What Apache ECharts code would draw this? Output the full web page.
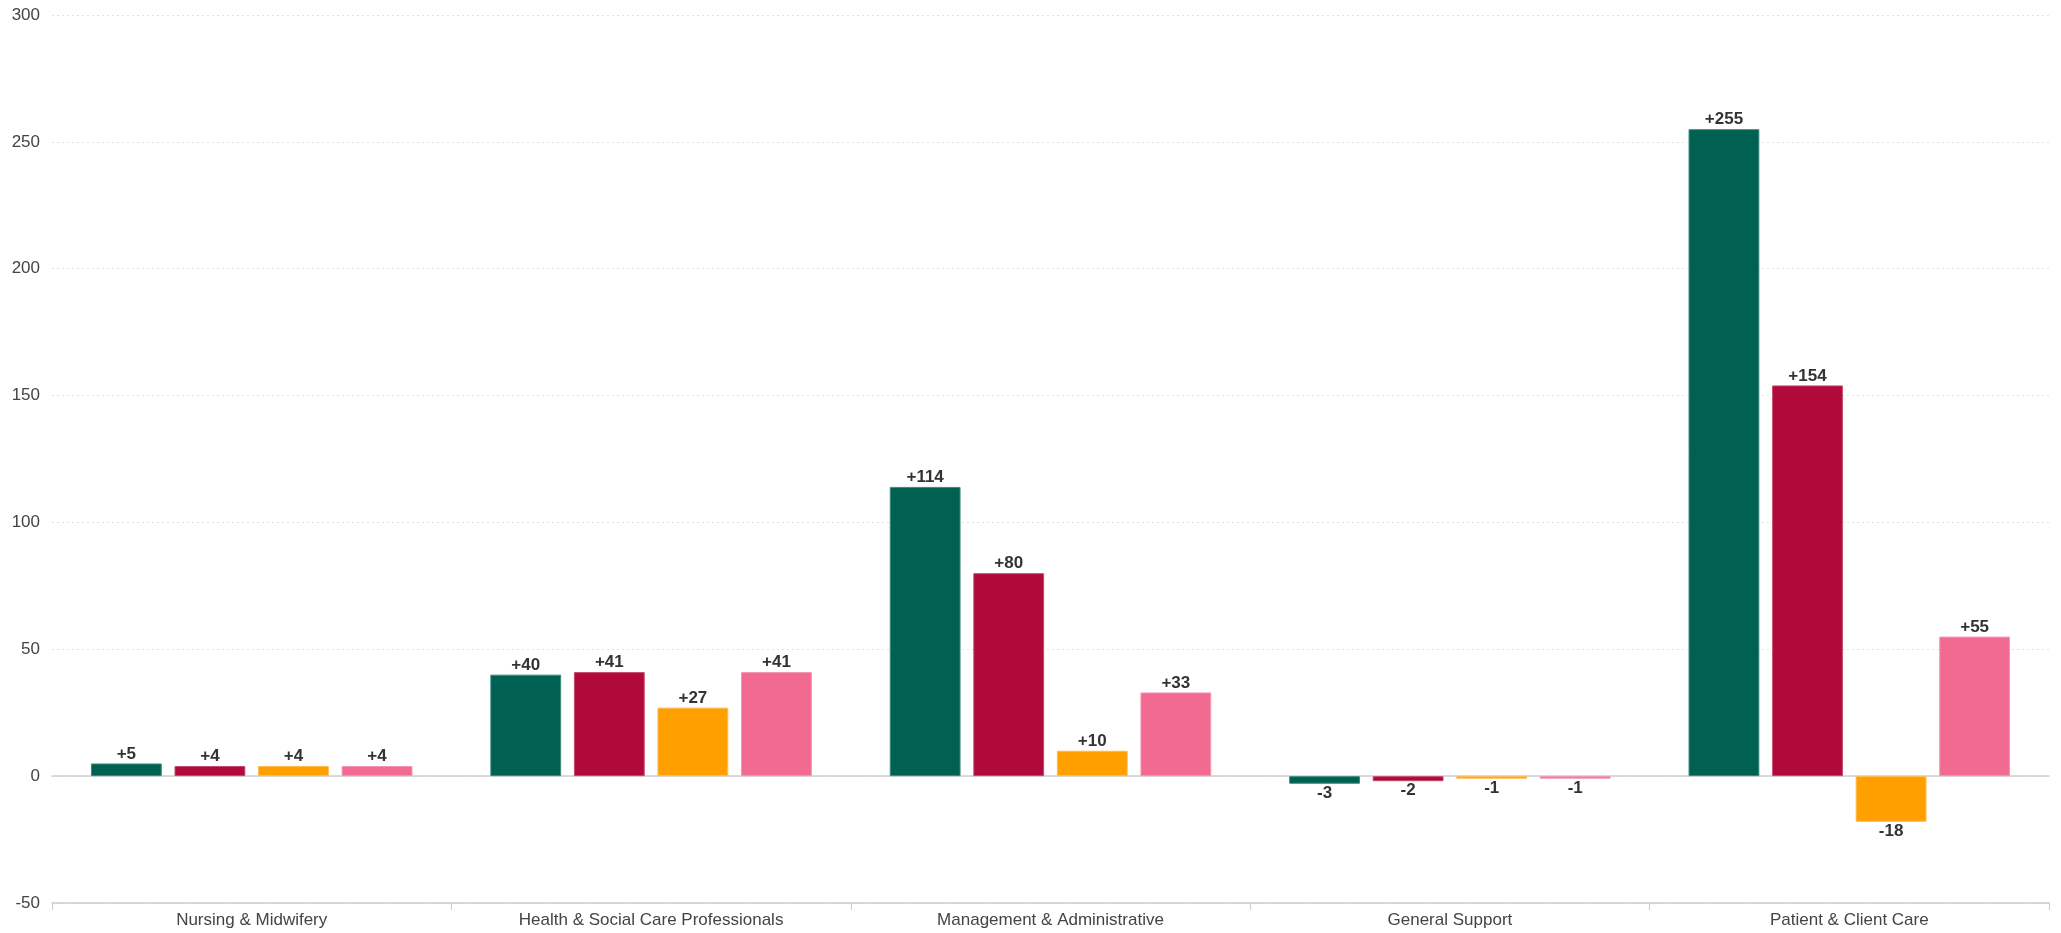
<!DOCTYPE html>
<html>
<head>
<meta charset="utf-8">
<title>Staff change by grade</title>
<script src="https://cdn.jsdelivr.net/npm/echarts@6/dist/echarts.min.js"></script>
<style>
  html, body { margin: 0; padding: 0; background: #fff; }
  #chart { width: 2061px; height: 933px; }
</style>
</head>
<body>
<div id="chart"></div>
<script>
// data
var categories = [
  'Nursing & Midwifery',
  'Health & Social Care Professionals',
  'Management & Administrative',
  'General Support',
  'Patient & Client Care'
]
var seriesNames = ['Series 1', 'Series 2', 'Series 3', 'Series 4']
var series1 = [5, 40, 114, -3, 255]
var series2 = [4, 41, 80, -2, 154]
var series3 = [4, 27, 10, -1, -18]
var series4 = [4, 41, 33, -1, 55]
var colors = ['#006152', '#B0093A', '#FF9F00', '#F06A91']
var borderColors = ['#3d8a7e', '#c44a6d', '#ffbb4d', '#f596b1']

;(function () {
  var chart = echarts.init(document.getElementById('chart'))

  // 负值标签放在柱子下方
  var toItems = function (values) {
    return values.map(function (v) {
      return {
        value: v,
        label: { position: v < 0 ? 'bottom' : 'top' }
      }
    })
  }

  var makeSeries = function (name, values, idx) {
    return {
      name: name,
      type: 'bar',
      data: toItems(values),
      barGap: '18%',
      barCategoryGap: '19.5%',
      itemStyle: {
        color: colors[idx],
        borderColor: borderColors[idx],
        borderWidth: 1
      },
      label: {
        show: true,
        distance: 1,
        color: '#333',
        fontFamily: 'Liberation Sans, Arial, sans-serif',
        fontWeight: 'bold',
        fontSize: 17,
        formatter: function (p) {
          return (p.value > 0 ? '+' : '') + p.value
        }
      }
    }
  }

  var allValues = [series1, series2, series3, series4]

  var option = {
    backgroundColor: '#fff',
    animation: false,
    grid: { left: 52, right: 12, top: 15, bottom: 30 },
    xAxis: [
      {
        type: 'category',
        data: categories,
        axisLine: { onZero: false, lineStyle: { color: '#cccccc', width: 1.5 } },
        axisTick: { show: true, length: 7, lineStyle: { color: '#cccccc' } },
        axisLabel: {
          color: '#444',
          fontFamily: 'Liberation Sans, Arial, sans-serif',
          fontSize: 17,
          margin: 9
        }
      },
      {
        // 零线，画在柱子下面
        type: 'category',
        data: categories,
        position: 'top',
        axisLine: { onZero: true, lineStyle: { color: '#cfcfcf', width: 1.5 } },
        axisTick: { show: false },
        axisLabel: { show: false },
        splitLine: { show: false }
      }
    ],
    yAxis: {
      type: 'value',
      min: -50,
      max: 300,
      interval: 50,
      axisLine: { show: false },
      axisTick: { show: false },
      axisLabel: {
        color: '#444',
        fontFamily: 'Liberation Sans, Arial, sans-serif',
        fontSize: 17,
        margin: 12
      },
      splitLine: {
        lineStyle: { color: '#e2e2e2', type: [2, 3], width: 1 }
      }
    },
    series: allValues.map(function (vals, i) {
      return makeSeries(seriesNames[i], vals, i)
    })
  }

  chart.setOption(option)
})()
</script>
</body>
</html>
